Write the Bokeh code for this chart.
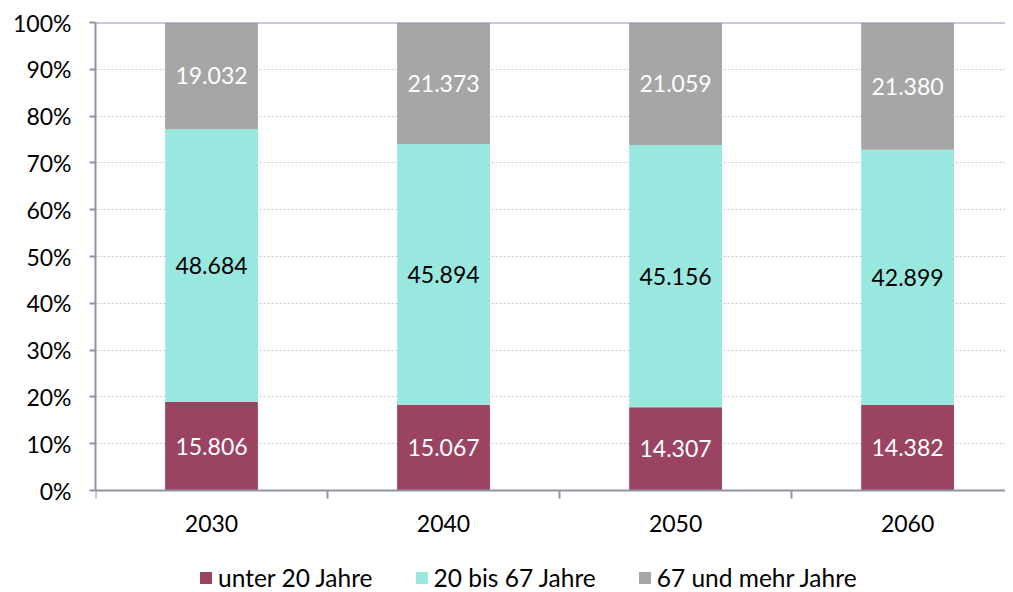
from bokeh.plotting import figure
from bokeh.models import (ColumnDataSource, Range1d, FixedTicker, NumeralTickFormatter,
                          Legend, LegendItem, Span, LabelSet)
from bokeh.embed import file_html
from bokeh.resources import INLINE
from bokeh.core.properties import value

years = ["2030", "2040", "2050", "2060"]
series = ["unter 20 Jahre", "20 bis 67 Jahre", "67 und mehr Jahre"]
under20 = [15806, 15067, 14307, 14382]
mid20_67 = [48684, 45894, 45156, 42899]
over67 = [19032, 21373, 21059, 21380]
colors = ["#9B4461", "#99E8E0", "#A6A6A6"]
label_colors = ["white", "black", "white"]

FONT = "Lato"
FS = "23px"
AXIS_COLOR = "#8C95A8"

x = [i + 0.5 for i in range(len(years))]
totals = [a + b + c for a, b, c in zip(under20, mid20_67, over67)]
vals = [under20, mid20_67, over67]

# frame extends below 0 to hold the axis labels and legend
p = figure(output_backend="svg", toolbar_location=None,
           x_range=Range1d(0, 3.922), y_range=Range1d(-102 / 468, 1.0),
           frame_width=910, frame_height=570,
           min_border_left=95, min_border_top=22, min_border_right=0, min_border_bottom=0)
p.outline_line_color = None
p.background_fill_color = "white"

renderers = []
bottoms = [0.0] * len(years)
for k, (name, v, col, lc) in enumerate(zip(series, vals, colors, label_colors)):
    share = [vi / t for vi, t in zip(v, totals)]
    tops = [b + s for b, s in zip(bottoms, share)]
    mids = [(b + t) / 2 for b, t in zip(bottoms, tops)]
    src = ColumnDataSource(dict(x=x, bottom=bottoms, top=tops, mid=mids,
                                lab=[f"{vi:,}".replace(",", ".") for vi in v]))
    r = p.vbar(x="x", width=0.4, bottom="bottom", top="top", source=src,
               fill_color=col, line_color=None)
    renderers.append(r)
    p.add_layout(LabelSet(x="x", y="mid", text="lab", source=src,
                          text_align="center", text_baseline="middle",
                          text_color=lc, text_font=value(FONT), text_font_size=FS))
    bottoms = tops

# top line at 100%
p.add_layout(Span(location=1.0, dimension="width", line_color=AXIS_COLOR, line_width=2))

# axes
p.xaxis.fixed_location = 0
p.xaxis.ticker = FixedTicker(ticks=x, minor_ticks=[0, 1, 2, 3])
p.xaxis.major_label_overrides = {xi: y for xi, y in zip(x, years)}
p.xaxis.major_tick_out = 0
p.xaxis.major_tick_in = 0
p.xaxis.minor_tick_out = 8
p.xaxis.minor_tick_in = 0
p.xaxis.minor_tick_line_color = AXIS_COLOR
p.xaxis.minor_tick_line_width = 2
p.xaxis.axis_line_color = AXIS_COLOR
p.xaxis.axis_line_width = 2
p.xaxis.major_label_standoff = 16
p.xaxis.major_label_text_font = FONT
p.xaxis.major_label_text_font_size = FS
p.xaxis.major_label_text_color = "black"

p.yaxis.bounds = (0, 1)
p.yaxis.ticker = FixedTicker(ticks=[i / 10 for i in range(11)])
p.yaxis.formatter = NumeralTickFormatter(format="0%")
p.yaxis.axis_line_color = AXIS_COLOR
p.yaxis.axis_line_width = 2
p.yaxis.major_tick_line_color = AXIS_COLOR
p.yaxis.major_tick_line_width = 2
p.yaxis.major_tick_out = 6
p.yaxis.major_tick_in = 0
p.yaxis.minor_tick_line_color = None
p.yaxis.major_label_standoff = 18
p.yaxis.major_label_text_font = FONT
p.yaxis.major_label_text_font_size = FS
p.yaxis.major_label_text_color = "black"

p.xgrid.grid_line_color = None
p.ygrid.grid_line_color = "#C8C8C8"
p.ygrid.grid_line_dash = "2 2"
p.ygrid.grid_line_width = 1

legend = Legend(items=[LegendItem(label=n, renderers=[r]) for n, r in zip(series, renderers)],
                orientation="horizontal", location=(103, 0),
                label_text_font=FONT, label_text_font_size="24.5px", label_text_color="black",
                glyph_width=15, glyph_height=15, spacing=41, label_standoff=5,
                border_line_color=None, background_fill_alpha=0, padding=0, margin=0)
p.add_layout(legend, "center")

open("out.html", "w").write(file_html(p, INLINE))
